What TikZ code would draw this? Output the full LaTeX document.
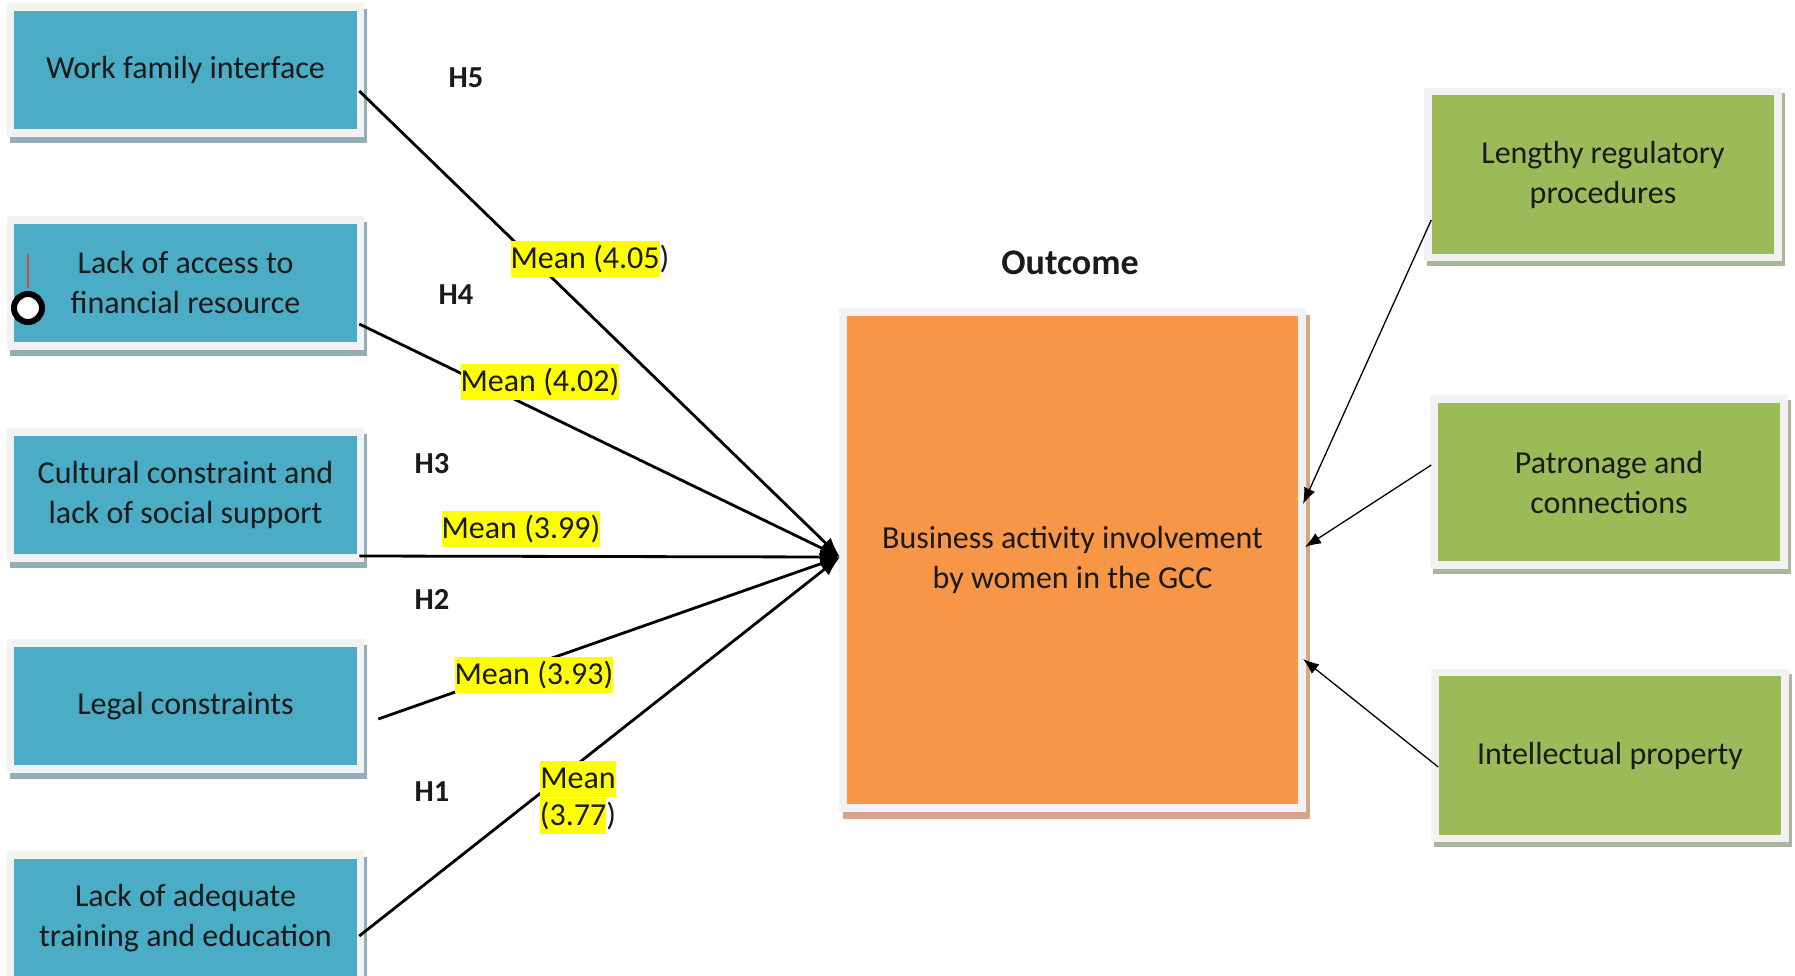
\documentclass[tikz,border=0pt]{standalone}
\usepackage{fontspec}
\setmainfont{Carlito}
\usetikzlibrary{arrows.meta,backgrounds,calc}
\definecolor{boxblue}{HTML}{4BACC6}
\definecolor{boxgreen}{HTML}{9BBB59}
\definecolor{boxorange}{HTML}{F79646}
\definecolor{rim}{HTML}{F2F2F2}
\definecolor{shblue}{HTML}{93AEB6}
\definecolor{shgreen}{HTML}{A8B69A}
\definecolor{shorange}{HTML}{D7A587}
\definecolor{hlyellow}{HTML}{FFFF00}
\definecolor{pinred}{HTML}{C0504D}
\definecolor{ink}{HTML}{1A1A1A}
\newcommand{\hlmark}[1]{{\setlength{\fboxsep}{0pt}\colorbox{hlyellow}{\rule[-0.27em]{0pt}{1.15em}#1}}}
\begin{document}
\begin{tikzpicture}[x=1pt,y=-1pt,
  every node/.style={text=ink},
  cbox/.style={draw=rim, line width=7.5pt, minimum width=350pt, align=center, inner sep=0pt, font=\fontsize{32}{40}\selectfont},
  bluebox/.style={cbox, fill=boxblue, minimum height=126pt},
  greenbox/.style={cbox, fill=boxgreen, minimum height=166pt},
  hypo/.style={font=\fontsize{30.5}{36}\selectfont\bfseries, inner sep=0pt},
  meanlbl/.style={font=\fontsize{32}{37}\selectfont, inner sep=0pt, align=center},
  mainline/.style={line width=2.8pt, -{Latex[length=20pt,width=15pt]}},
  sideline/.style={line width=1.3pt, -{Latex[length=16pt,width=12pt]}},
]
\useasboundingbox (0,0) rectangle (1795,975);
\clip (0,0) rectangle (1795,975);

% left boxes
\node[bluebox] (b1) at (185.5,70) {Work family interface};
\node[bluebox] (b2) at (185.5,283) {Lack of access to\\financial resource};
\node[bluebox] (b3) at (185.5,495) {Cultural constraint and\\lack of social support};
\node[bluebox] (b4) at (185.5,706) {Legal constraints};
\node[bluebox] (b5) at (185.5,918) {Lack of adequate\\training and education};

% outcome
\node[cbox, fill=boxorange, line width=8pt, minimum width=459pt, minimum height=496pt] (out) at (1072.5,560) {Business activity involvement\\by women in the GCC};
\node[font=\fontsize{36}{40}\selectfont\bfseries] (outlbl) at (1070,263) {Outcome};

% right boxes
\node[greenbox] (g1) at (1603,174.5) {Lengthy regulatory\\procedures};
\node[greenbox] (g2) at (1609,482) {Patronage and\\connections};
\node[greenbox] (g3) at (1610,755.5) {Intellectual property};

% shadows
\begin{pgfonlayer}{background}
\fill[white] (0,0) rectangle (1795,975);
\foreach \b in {b1,b2,b3,b4,b5}
  \fill[shblue] ($(\b.south west)+(3,6)$) rectangle ($(\b.north east)+(3,6)$);
\foreach \g in {g1,g2,g3}
  \fill[shgreen] ($(\g.south west)+(3,5)$) rectangle ($(\g.north east)+(3,5)$);
\fill[shorange] ($(out.south west)+(4,7)$) rectangle ($(out.north east)+(4,7)$);
\end{pgfonlayer}

% pin mark in box 2
\draw[pinred, line width=1.2pt] (28,254) -- (28,288);
\draw[line width=6pt, fill=white] (28,308) circle (14);

% connector end points
\coordinate (s5) at ($(b1.east)+(-5,21)$);
\coordinate (s4) at ($(b2.east)+(-5,41)$);
\coordinate (s3) at ($(b3.east)+(-5,61)$);
\coordinate (s2) at ($(b4.east)+(14,13)$);
\coordinate (s1) at ($(b5.east)+(-5,18)$);
\coordinate (tipL) at ($(out.west)+(1,-3)$);

\draw[mainline] (s5) -- (tipL);
\draw[mainline] (s4) -- (tipL);
\draw[mainline] (s3) -- (tipL);
\draw[mainline] (s2) -- (tipL);
\draw[mainline] (s1) -- (tipL);

\coordinate (r1) at ($(g1.west)+(7,45.5)$);
\coordinate (r2) at ($(g2.west)+(1,-17)$);
\coordinate (r3) at ($(g3.west)+(7,11.5)$);
\coordinate (t1) at ($(out.east)+(-3,-56)$);
\coordinate (t2) at ($(out.east)+(-1,-13)$);
\coordinate (t3) at ($(out.east)+(-3,99)$);
\draw[sideline] (r1) -- (t1);
\draw[sideline] (r2) -- (t2);
\draw[sideline] (r3) -- (t3);

% labels
\node[meanlbl] (m5) at (590,259) {\hlmark{Mean (4.05})};
\node[meanlbl] (m4) at (540,382) {\hlmark{Mean (4.02)}};
\node[meanlbl] (m3) at (521,529) {\hlmark{Mean (3.99)}};
\node[meanlbl] (m2) at (534,675) {\hlmark{Mean (3.93)}};
\node[meanlbl] (m1) at (578,797.5) {\hlmark{Mean}\\\hlmark{(3.77})};

\node[hypo] (h5) at (466,78) {H5};
\node[hypo] (h4) at (456,295) {H4};
\node[hypo] (h3) at (432,464) {H3};
\node[hypo] (h2) at (432,599) {H2};
\node[hypo] (h1) at (432,792) {H1};
\end{tikzpicture}
\end{document}
